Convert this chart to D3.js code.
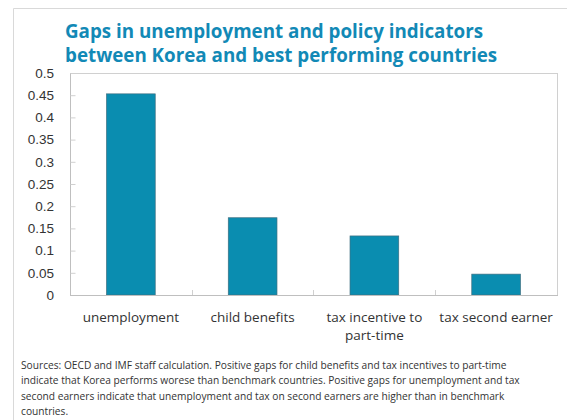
<!DOCTYPE html>
<html>
<head>
<meta charset="utf-8">
<title>Gaps in unemployment and policy indicators</title>
<style>
    body { margin: 0; background: #fff; }
    svg { display: block; font-family: "Open Sans", sans-serif; }
    .title { font-weight: bold; font-size: 18.8px; fill: #1289b6; }
    .axis text { font-size: 13.5px; fill: #333; }
    .note { font-size: 10.2px; fill: #333; }
</style>
</head>
<body>
<div id="chart"></div>
<script src="https://d3js.org/d3.v7.min.js"></script>
<script>
    // data
    var categories = ["unemployment", "child benefits", "tax incentive to part-time", "tax second earner"];
    var gaps = [0.453, 0.174, 0.133, 0.047];
    var yTicks = [0, 0.05, 0.1, 0.15, 0.2, 0.25, 0.3, 0.35, 0.4, 0.45, 0.5];
    var titleLines = ["Gaps in unemployment and policy indicators", "between Korea and best performing countries"];
    var noteLines = [
        "Sources: OECD and IMF staff calculation. Positive gaps for child benefits and tax incentives to part-time",
        "indicate that Korea performs worese than benchmark countries. Positive gaps for unemployment and tax",
        "second earners indicate that unemployment and tax on second earners are higher than in benchmark",
        "countries."
    ];

    var width = 567, height = 420;
    var margin = { top: 73, right: 10, bottom: 125, left: 70 };
    var plotW = width - margin.left - margin.right;
    var plotH = height - margin.top - margin.bottom;

    var svg = d3.select("#chart").append("svg")
        .attr("width", width)
        .attr("height", height);

    // outer frame (only top and left edges visible)
    svg.append("path")
        .attr("d", "M13.5," + height + "V8.5H" + width)
        .attr("fill", "none")
        .attr("stroke", "#d9d9d9");

    // title, one text per line
    svg.selectAll(".title")
        .data(titleLines)
        .enter().append("text")
        .attr("class", "title")
        .attr("x", 65)
        .attr("y", function(d, i) { return 37.5 + i * 24.5; })
        .text(function(d) { return d; });

    var g = svg.append("g")
        .attr("transform", "translate(" + margin.left + "," + margin.top + ")");

    var x = d3.scaleBand()
        .domain(categories)
        .range([0, plotW])
        .paddingInner(0.6)
        .paddingOuter(0.3);

    var y = d3.scaleLinear()
        .domain([0, 0.5])
        .range([plotH, 0]);

    // plot box
    g.append("rect")
        .attr("x", 0.5).attr("y", 0.5)
        .attr("width", plotW).attr("height", plotH)
        .attr("fill", "none")
        .attr("stroke", "#d0d0d0");

    // y axis
    var yAxis = g.append("g")
        .attr("class", "axis")
        .call(d3.axisLeft(y).tickValues(yTicks).tickSize(-5).tickPadding(16)
            .tickFormat(function(d) { return String(+d.toFixed(2)); }));
    yAxis.select(".domain").attr("stroke", "#bfbfbf");
    yAxis.selectAll(".tick line").attr("stroke", "#d0d0d0").attr("transform", "translate(0.5,0)");

    // category boundary ticks on the bottom axis
    var step = x.step();
    g.selectAll(".cat-tick")
        .data(categories.slice(1))
        .enter().append("line")
        .attr("class", "cat-tick")
        .attr("x1", function(d) { return Math.round(x(d) - step * 0.3) + 0.5; })
        .attr("x2", function(d) { return Math.round(x(d) - step * 0.3) + 0.5; })
        .attr("y1", plotH).attr("y2", plotH - 5)
        .attr("stroke", "#d0d0d0");

    // bars
    g.selectAll(".bar")
        .data(gaps)
        .enter().append("rect")
        .attr("class", "bar")
        .attr("x", function(d, i) { return x(categories[i]); })
        .attr("y", function(d) { return y(d); })
        .attr("width", x.bandwidth())
        .attr("height", function(d) { return plotH - y(d); })
        .attr("fill", "#0a8db0")
        .attr("stroke", "#3f6f80")
        .attr("stroke-width", 0.7);

    // bottom axis line
    g.append("line")
        .attr("x1", 0).attr("x2", plotW + 1)
        .attr("y1", plotH + 0.5).attr("y2", plotH + 0.5)
        .attr("stroke", "#bfbfbf");

    // category labels, wrapped to the band step
    var labels = g.append("g").attr("class", "axis")
        .selectAll("text")
        .data(categories)
        .enter().append("text")
        .attr("text-anchor", "middle")
        .attr("x", function(d) { return x(d) + x.bandwidth() / 2; })
        .attr("y", plotH + 27);

    labels.each(function(d) {
        var text = d3.select(this);
        var words = d.split(" ");
        var line = [];
        var cx = text.attr("x");
        var tspan = text.append("tspan").attr("x", cx).attr("dy", 0);
        words.forEach(function(w) {
            line.push(w);
            tspan.text(line.join(" "));
            if (tspan.node().getComputedTextLength() > step - 2 && line.length > 1) {
                line.pop();
                tspan.text(line.join(" "));
                line = [w];
                tspan = text.append("tspan").attr("x", cx).attr("dy", 18).text(w);
            }
        });
    });

    // footnote
    svg.append("text")
        .attr("class", "note")
        .selectAll("tspan")
        .data(noteLines)
        .enter().append("tspan")
        .attr("x", 21)
        .attr("y", function(d, i) { return 369 + i * 15.3; })
        .text(function(d) { return d; });
</script>
</body>
</html>
